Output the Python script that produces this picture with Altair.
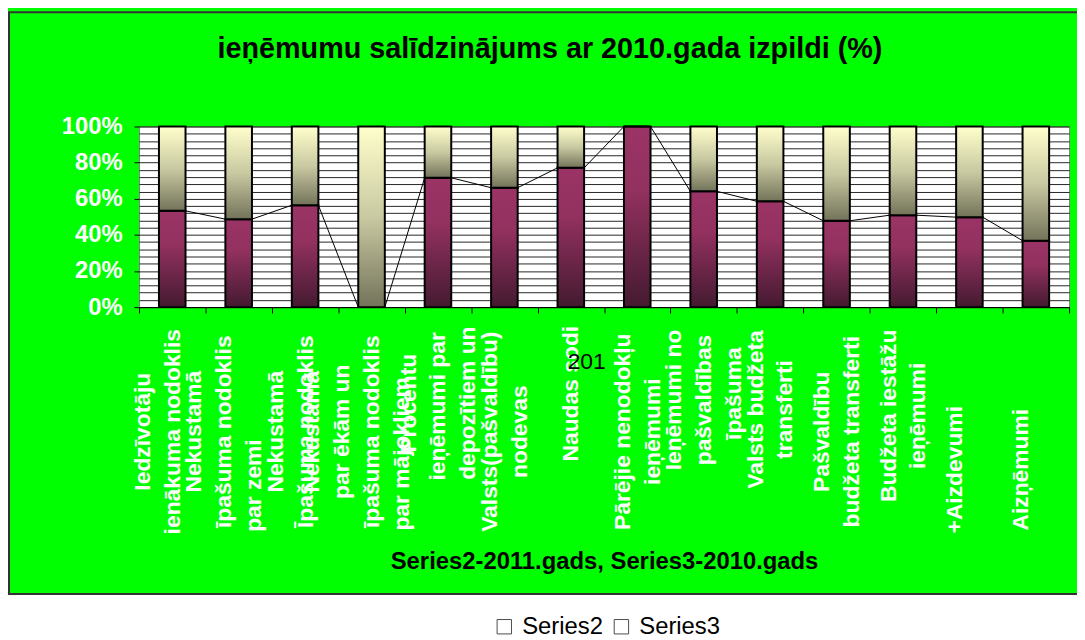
import altair as alt
import pandas as pd

NB = "\u00a0"   # non-breaking space used to nudge a wrapped line along its reading direction
WJ = "\u2060"   # word joiner: keeps the padding from being trimmed


def lead(n, s):
    return WJ + NB * n + s


def trail(s, n):
    return s + NB * n + WJ


categories = [
    "Iedzīvotāju\nienākuma nodoklis\n",
    "Nekustamā\nīpašuma nodoklis\n" + trail("par zemi", 17) + "\n",
    "Nekustamā\nĪpašuma nodoklis\n",
    "Nekustamā\npar ēkām un\nīpašuma nodoklis\n" + trail("par mājokļiem", 7) + "\n",
    lead(9, "Procentu") + "\n" + lead(8, "ieņēmumi par") + "\n" + lead(9, "depozītiem un"),
    "Valsts(pašvaldību)\nnodevas",
    lead(12, "Naudas sodi"),
    "Pārējie nenodokļu\nieņēmumi",
    lead(10, "Ieņēmumi no") + "\n" + lead(10, "pašvaldības") + "\n" + lead(12, "īpašuma"),
    lead(7, "Valsts budžeta") + "\n" + lead(7, "transferti"),
    "Pašvaldību\nbudžeta transferti",
    lead(5, "Budžeta iestāžu") + "\n" + lead(5, "ieņēmumi"),
    trail("+Aizdevumi", 12) + "\n",
    trail("Aizņēmumi", 12) + "\n",
]
series2 = [53.3, 48.7, 56.4, 0.0, 71.6, 66.1, 77.1, 100.0, 64.1, 58.6, 47.8, 50.9, 49.8, 36.8]
series3 = [46.7, 51.3, 43.6, 100.0, 28.4, 33.9, 22.9, 0.0, 35.9, 41.4, 52.2, 49.1, 50.2, 63.2]
series_names = ["Series2", "Series3"]
title_text = ["ieņēmumu salīdzinājums ar 2010.gada izpildi (%)"]
x_title = "Series2-2011.gads, Series3-2010.gads"
stray_label = ["201"]
stray_cat = [categories[6]]
y_ticks = list(range(0, 101, 4))

FONT = "Liberation Sans"
W, H = 937, 182
LH = 30

df = pd.DataFrame({"cat": categories, "s2": series2, "s3": series3, "idx": list(range(len(categories)))})

grad2 = alt.LinearGradient(
    gradient="linear", x1=0, x2=0, y1=0, y2=1,
    stops=[alt.GradientStop(color="#9a3466", offset=0),
           alt.GradientStop(color="#93315f", offset=0.35),
           alt.GradientStop(color="#441a30", offset=1)])
grad3 = alt.LinearGradient(
    gradient="linear", x1=0, x2=0, y1=0, y2=1,
    stops=[alt.GradientStop(color="#ffffcc", offset=0),
           alt.GradientStop(color="#c9c9a2", offset=0.5),
           alt.GradientStop(color="#73735a", offset=1)])

yscale = alt.Scale(domain=[0, 100], nice=False, zero=True)
yaxis = alt.Axis(
    values=y_ticks,
    labelExpr="datum.value % 20 == 0 ? datum.value + '%' : ''",
    grid=True, gridColor="black", gridWidth=1, gridOpacity=0.85,
    domain=False, tickColor="black", tickSize=5,
    tickOpacity={"condition": {"test": "datum.value % 20 == 0", "value": 1}, "value": 0},
    labelFont=FONT, labelFontSize=24, labelFontWeight="bold", labelColor="white",
    labelPadding=12, labelOverlap=False, title=None)

nlines = "length(split(datum.value, '\\n'))"
label_offset = {
    "condition": [{"test": "%s == %d" % (nlines, n), "value": -LH * (n - 1) / 2} for n in range(2, 7)],
    "value": 0,
}

xscale = alt.Scale(type="band", paddingInner=0, paddingOuter=0)
xaxis = alt.Axis(
    labelAngle=-90, labelAlign="center", labelBaseline="middle", labelPadding=119,
    tickBand="extent", tickSize=6, tickColor="black", domainColor="black",
    labelExpr="split(datum.label, '\\n')", labelLineHeight=LH,
    labelFont=FONT, labelFontSize=23, labelFontWeight="bold", labelColor="white",
    labelLimit=0, labelOverlap=False, labelBound=False, labelFlush=False, grid=False,
    labelOffset=label_offset,
    titleFont=FONT, titleFontSize=24, titleFontWeight="bold", titleColor="black",
    titleY=256, titleBaseline="middle")

xenc = alt.X("cat:N", sort=categories, scale=xscale, axis=xaxis, title=x_title)

base = alt.Chart(df).transform_calculate(
    p2="100*datum.s2/(datum.s2+datum.s3)", top="100", zero="0")

bar2 = base.mark_bar(
    fill=grad2, stroke="black", strokeWidth=2, width=alt.RelativeBandSize(0.4)).encode(
    x=xenc,
    y=alt.Y("zero:Q", scale=yscale, axis=yaxis, title=None),
    y2="p2:Q")

bar3 = base.mark_bar(
    fill=grad3, stroke="black", strokeWidth=2, width=alt.RelativeBandSize(0.4)).encode(
    x=xenc,
    y=alt.Y("p2:Q", scale=yscale, axis=yaxis, title=None),
    y2="top:Q")

line = base.transform_window(
    window=[{"op": "lead", "field": "cat", "as": "next_cat"},
            {"op": "lead", "field": "p2", "as": "next_p2"}],
    sort=[alt.SortField("idx")]).transform_filter(
    "datum.next_cat != null").mark_rule(color="black", strokeWidth=1).encode(
    x=alt.X("cat:N", sort=categories, scale=xscale, axis=xaxis, title=x_title, bandPosition=0.7),
    x2=alt.X2("next_cat", bandPosition=0.3),
    y=alt.Y("p2:Q", scale=yscale, axis=yaxis, title=None),
    y2="next_p2:Q")

# legend carrier: one hollow square per series, placed outside the visible canvas
legend_layer = alt.Chart(pd.DataFrame({"series": series_names})).mark_point(
    filled=False, size=210, strokeWidth=1, shape="square").encode(
    x=alt.value(-600), y=alt.value(-600),
    stroke=alt.Stroke(
        "series:N",
        scale=alt.Scale(domain=series_names, range=["black", "black"]),
        legend=alt.Legend(orient="none", legendX=356, legendY=492, direction="horizontal",
                          title=None, symbolType="square", symbolSize=210,
                          symbolStrokeWidth=1, symbolFillColor="white",
                          labelFontSize=24, labelFont=FONT, labelColor="black",
                          columnPadding=6, labelOffset=6)))

stray = alt.Chart(pd.DataFrame({"cat": stray_cat, "label": stray_label})).mark_text(
    font=FONT, fontSize=23, color="black", baseline="middle", align="center", dx=16).encode(
    x=alt.X("cat:N", sort=categories, scale=xscale, axis=xaxis, title=x_title),
    y=alt.value(237),
    text="label:N")

title_mark = alt.Chart(pd.DataFrame({"t": title_text})).mark_text(
    font=FONT, fontSize=29, fontWeight="bold", color="black",
    baseline="middle", align="center").encode(
    x=alt.value(414), y=alt.value(-78), text="t:N")

deco = pd.DataFrame({"k": [0]})
white_strip = alt.Chart(deco).mark_rect(fill="white").encode(
    x=alt.value(-132), x2=alt.value(W + 20), y=alt.value(471), y2=alt.value(520))
border = alt.Chart(deco).mark_rect(filled=False, stroke="#333333", strokeWidth=2).encode(
    x=alt.value(-131), x2=alt.value(W + 30), y=alt.value(-115), y2=alt.value(471))

chart = alt.layer(bar2, bar3, line, stray, title_mark, white_strip, border, legend_layer).properties(
    width=W, height=H,
    autosize=alt.AutoSizeParams(type="none"),
    padding={"left": 132, "top": 117, "right": 8, "bottom": 333},
    background="#00ff00",
).configure_view(fill="white", stroke="#808080", strokeWidth=1)

chart.save("out.html", embed_options={"renderer": "svg", "actions": False})
